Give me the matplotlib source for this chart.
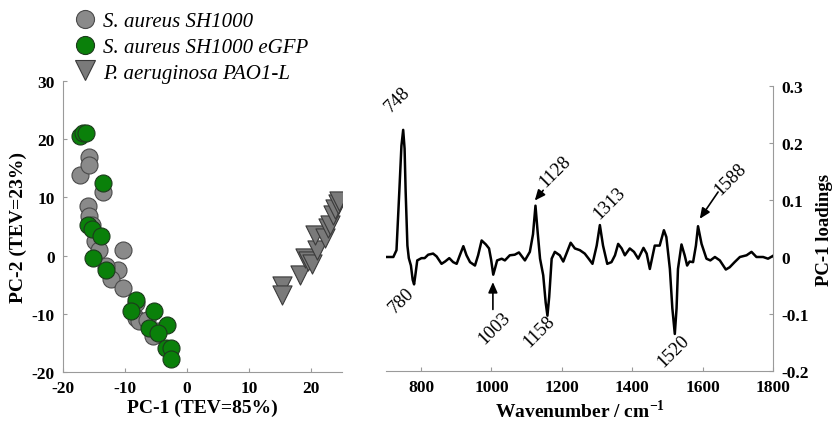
import matplotlib
matplotlib.use("Agg")
import matplotlib.pyplot as plt
from matplotlib.lines import Line2D

# ---------------- data ----------------
sa_x = [-17.2, -15.8, -15.8, -13.6, -16.0, -15.8, -15.4, -14.9, -14.2, -10.4,
        -11.2, -12.2, -10.4, -13.1, -8.3, -8.2, -7.7, -6.5, -5.5, -4.6]
sa_y = [13.9, 17.0, 15.5, 10.9, 8.6, 6.8, 5.3, 2.5, 0.9, 1.0,
        -2.4, -4.1, -5.5, -1.8, -8.1, -10.7, -11.3, -11.0, -13.9, -13.0]

gfp_x = [-17.2, -16.7, -16.3, -13.6, -16.0, -15.4, -13.8, -15.1, -13.1, -8.3,
         -9.0, -5.3, -6.1, -3.3, -4.6, -3.4, -2.5, -2.5]
gfp_y = [20.5, 21.1, 21.1, 12.5, 5.3, 4.5, 3.3, -0.4, -2.5, -7.6,
         -9.6, -9.6, -12.4, -11.9, -13.3, -15.9, -15.9, -17.8]

pa_x = [15.3, 15.3, 18.2, 19.0, 19.5, 20.1, 20.9, 20.6, 22.2, 22.7, 23.0, 23.5, 23.8, 24.3, 24.6]
pa_y = [-5.3, -6.7, -3.3, -0.4, -1.0, -1.5, 1.0, 3.6, 3.0, 4.8, 5.2, 7.0, 8.0, 8.8, 9.4]

legend_labels = ["S. aureus SH1000", "S. aureus SH1000 eGFP", "P. aeruginosa PAO1-L"]

wavenumber = [700, 721, 730, 738, 744, 749, 753, 756, 761, 765, 771, 776, 780, 784, 789,
              801, 810, 820, 834, 844, 858, 868, 880, 891, 901, 910, 920, 929, 939, 953,
              962, 972, 984, 993, 999, 1005, 1010, 1016, 1029, 1038, 1052, 1066, 1078,
              1095, 1109, 1118, 1125, 1131, 1138, 1147, 1154, 1159, 1164, 1171, 1180,
              1194, 1204, 1213, 1225, 1237, 1251, 1265, 1275, 1287, 1299, 1308, 1317,
              1329, 1341, 1351, 1360, 1370, 1379, 1393, 1405, 1417, 1432, 1441, 1450,
              1464, 1478, 1490, 1497, 1507, 1514, 1521, 1526, 1530, 1540, 1549, 1556,
              1563, 1573, 1581, 1587, 1597, 1611, 1622, 1635, 1649, 1666, 1677, 1691,
              1706, 1725, 1739, 1753, 1772, 1786, 1800]
loading = [0.0, 0.0, 0.012, 0.115, 0.195, 0.223, 0.19, 0.115, 0.02, -0.002, -0.015, -0.04,
           -0.048, -0.03, -0.006,
           -0.002, -0.002, 0.004, 0.006, 0.001, -0.012, -0.008, -0.002, -0.009, -0.012,
           0.003, 0.019, 0.003, -0.009, -0.015,
           0.003, 0.029, 0.022, 0.015, -0.005, -0.031, -0.02, -0.006, -0.003, -0.006,
           0.003, 0.004, 0.008,
           -0.006, 0.009, 0.04, 0.09, 0.045, -0.003, -0.032, -0.08, -0.103, -0.07,
           -0.003, 0.009,
           0.003, -0.008, 0.006, 0.025, 0.015, 0.012, 0.006, -0.002, -0.012, 0.02,
           0.056, 0.02,
           -0.012, -0.009, 0.003, 0.023, 0.015, 0.003, 0.015, 0.009, -0.003, 0.016,
           0.006, -0.021,
           0.02, 0.02, 0.047, 0.035, -0.021, -0.09, -0.135, -0.09, -0.021, 0.022,
           0.003, -0.015,
           -0.008, -0.009, 0.02, 0.054, 0.023, -0.003, -0.006, 0.0, -0.006, -0.022,
           -0.018, -0.009,
           0.0, 0.003, 0.009, 0.0, 0.0, -0.003, 0.002]

peak_labels = ["748", "780", "1003", "1128", "1158", "1313", "1520", "1588"]

# ---------------- style ----------------
SERIF = "Liberation Serif"
GRAY_SPINE = "#9a9a9a"
plt.rcParams["font.family"] = [SERIF, "DejaVu Serif"]
plt.rcParams["font.weight"] = "bold"
plt.rcParams["font.size"] = 12.5
plt.rcParams["axes.unicode_minus"] = False
plt.rcParams["mathtext.fontset"] = "custom"
plt.rcParams["mathtext.rm"] = SERIF
plt.rcParams["mathtext.bf"] = SERIF + ":bold"

fig = plt.figure(figsize=(8.39, 4.27), dpi=100)

# ---- left scatter ----
ax1 = fig.add_axes([0.0751, 0.1265, 0.3325, 0.6815])
ax1.scatter(sa_x, sa_y, s=150, marker="o", facecolor="#8a8a8a", edgecolor="#4a4a4a",
            linewidth=0.8, zorder=2)
ax1.scatter(gfp_x, gfp_y, s=150, marker="o", facecolor="#0a800a", edgecolor="#1d3a1d",
            linewidth=0.8, zorder=3)
ax1.scatter(pa_x, pa_y, s=190, marker="v", facecolor="#7a7a7a", edgecolor="#3a3a3a",
            linewidth=0.8, zorder=4)
ax1.set_xlim(-20, 25)
ax1.set_ylim(-20, 30)
ax1.set_xticks([-20, -10, 0, 10, 20])
ax1.set_yticks([-20, -10, 0, 10, 20, 30])
for s in ["top", "right"]:
    ax1.spines[s].set_visible(False)
for s in ["left", "bottom"]:
    ax1.spines[s].set_color(GRAY_SPINE)
ax1.tick_params(direction="in", length=3, color=GRAY_SPINE, pad=6, labelsize=12.5)
ax1.set_xlabel("PC-1 (TEV=85%)", weight="bold", size=14, labelpad=2)
ax1.set_ylabel("PC-2 (TEV=23%)", weight="bold", size=14, labelpad=3)

handles = [
    Line2D([], [], ls="none", marker="o", ms=13, mfc="#8a8a8a", mec="#4a4a4a", mew=0.8),
    Line2D([], [], ls="none", marker="o", ms=13, mfc="#0a800a", mec="#1d3a1d", mew=0.8),
    Line2D([], [], ls="none", marker="v", ms=14, mfc="#7a7a7a", mec="#3a3a3a", mew=0.8),
]
fig.legend(handles, legend_labels, loc="upper left", bbox_to_anchor=(0.072, 1.005),
           frameon=False, handlelength=1.0, handletextpad=0.35, labelspacing=0.3,
           borderpad=0.2,
           prop=dict(family=SERIF, style="italic", weight="normal", size=15))

# ---- right spectrum ----
ax2 = fig.add_axes([0.46, 0.1288, 0.4613, 0.6675])
ax2.plot(wavenumber, loading, color="black", lw=1.8, zorder=3)
ax2.set_xlim(700, 1800)
ax2.set_ylim(-0.2, 0.3)
ax2.set_xticks([800, 1000, 1200, 1400, 1600, 1800])
ax2.set_yticks([-0.2, -0.1, 0, 0.1, 0.2, 0.3])
ax2.set_yticklabels(["-0.2", "-0.1", "0", "0.1", "0.2", "0.3"])
for s in ["top", "left"]:
    ax2.spines[s].set_visible(False)
for s in ["right", "bottom"]:
    ax2.spines[s].set_color(GRAY_SPINE)
ax2.yaxis.tick_right()
ax2.yaxis.set_label_position("right")
ax2.tick_params(direction="in", length=3, color=GRAY_SPINE, pad=6, labelsize=12.5)
ax2.set_xlabel("Wavenumber / cm$^{\\mathbf{-1}}$", weight="bold", size=14, labelpad=2)
ax2.set_ylabel("PC-1 loadings", weight="bold", size=13.5, labelpad=5)

ann_font = dict(size=13.5, weight="normal", rotation=45, ha="center", va="center")
text_pos = {"748": (734, 0.278), "780": (745, -0.076), "1003": (1008, -0.124),
            "1128": (1180, 0.152), "1158": (1137, -0.129), "1313": (1334, 0.096),
            "1520": (1518, -0.164), "1588": (1679, 0.137)}
arrows = {"1003": ((1004, -0.092), (1004, -0.044)),
          "1128": ((1147, 0.117), (1123, 0.099)),
          "1588": ((1644, 0.114), (1592, 0.067))}
for lab in peak_labels:
    tx, ty = text_pos[lab]
    ax2.text(tx, ty, lab, **ann_font)
    if lab in arrows:
        tail, head = arrows[lab]
        ax2.annotate("", xy=head, xytext=tail,
                     arrowprops=dict(arrowstyle="-|>,head_length=0.5,head_width=0.22",
                                     color="black", lw=1.2, shrinkA=0, shrinkB=0))

fig.savefig("out.png", dpi=100)
